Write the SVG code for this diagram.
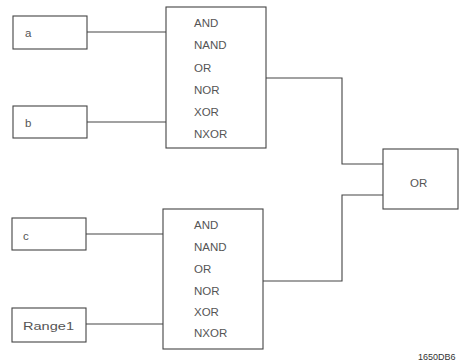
<svg xmlns="http://www.w3.org/2000/svg" width="463" height="363" viewBox="0 0 463 363">
<style>
.box{fill:#fff;stroke:#444;stroke-width:1.1}
.t{font-family:"Liberation Sans",Arial,sans-serif;font-size:11.5px;fill:#555;dominant-baseline:central}
.w{fill:none;stroke:#444;stroke-width:1.1}
.id{font-family:"Liberation Sans",Arial,sans-serif;font-size:9px;fill:#333}
</style>
<rect width="463" height="363" fill="#fff"/>
<g id="connectors">
<path class="w" d="M87 32H166"/>
<path class="w" d="M87 122H166"/>
<path class="w" d="M86 234H163"/>
<path class="w" d="M86 324H163"/>
<path class="w" d="M266 78H342V164H383"/>
<path class="w" d="M263 281H342V195H383"/>
</g>
<g id="input-a"><rect class="box" x="13" y="16" width="74" height="33"/><text class="t" x="25" y="33">a</text></g>
<g id="input-b"><rect class="box" x="13" y="106" width="74" height="32"/><text class="t" x="25" y="123">b</text></g>
<g id="input-c"><rect class="box" x="12" y="218" width="74" height="32"/><text class="t" x="23" y="236">c</text></g>
<g id="input-range1"><rect class="box" x="12" y="308" width="74" height="34"/><text class="t" x="23" y="326" font-size="12.5" textLength="51" lengthAdjust="spacingAndGlyphs">Range1</text></g>
<g id="gate1">
<rect class="box" x="166" y="7" width="100" height="141"/>
<text class="t" x="194" y="23">AND</text>
<text class="t" x="194" y="45">NAND</text>
<text class="t" x="194" y="68">OR</text>
<text class="t" x="194" y="90">NOR</text>
<text class="t" x="194" y="112">XOR</text>
<text class="t" x="194" y="134">NXOR</text>
</g>
<g id="gate2">
<rect class="box" x="163" y="209" width="100" height="140"/>
<text class="t" x="194" y="225">AND</text>
<text class="t" x="194" y="247">NAND</text>
<text class="t" x="194" y="269">OR</text>
<text class="t" x="194" y="291">NOR</text>
<text class="t" x="194" y="312">XOR</text>
<text class="t" x="194" y="333">NXOR</text>
</g>
<g id="or-gate"><rect class="box" x="383" y="149" width="75" height="60"/><text class="t" x="410" y="183">OR</text></g>
<text class="id" x="418" y="360">1650DB6</text>
</svg>
